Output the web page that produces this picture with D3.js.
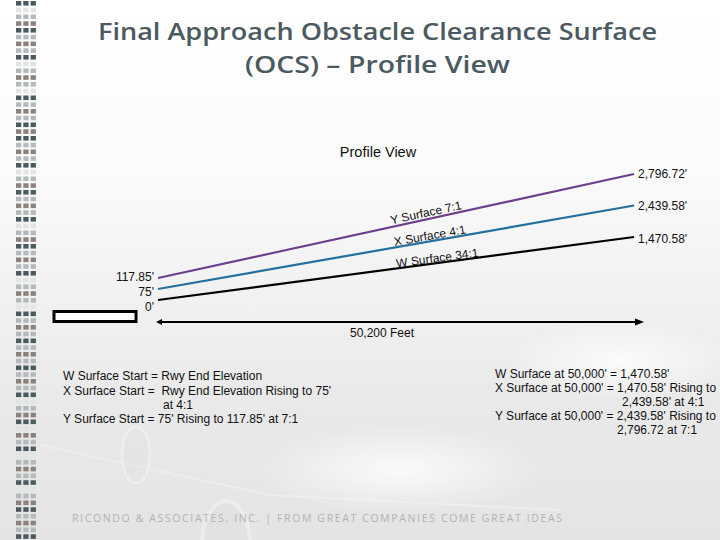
<!DOCTYPE html>
<html>
<head>
<meta charset="utf-8">
<script src="https://cdn.jsdelivr.net/npm/d3@7/dist/d3.min.js"></script>
<style>
  html, body { margin: 0; padding: 0; background: #fff; }
  svg { display: block; }
  text { white-space: pre; }
</style>
</head>
<body>
<svg id="chart" width="720" height="540"></svg>
<script>
// ---------------- DATA ----------------
const titleLines = ["Final Approach Obstacle Clearance Surface", "(OCS) \u2013 Profile View"];
const chartTitle = "Profile View";
const surfaceNames = ["W Surface 34:1", "X Surface 4:1", "Y Surface 7:1"];
const startElevations = [0, 75, 117.85];              // feet
const endElevations = [1470.58, 2439.58, 2796.72];    // feet
const startLabels = ["0'", "75'", "117.85'"];
const endLabels = ["1,470.58'", "2,439.58'", "2,796.72'"];
const surfaceLength = 50000;   // feet
const totalDistance = 50200;   // feet
const distanceLabel = "50,200 Feet";
const leftNotes = [
  "W Surface Start = Rwy End Elevation",
  "X Surface Start =  Rwy End Elevation Rising to 75'",
  "at 4:1",
  "Y Surface Start = 75' Rising to 117.85' at 7:1"
];
const rightNotes = [
  "W Surface at 50,000' = 1,470.58'",
  "X Surface at 50,000' = 1,470.58' Rising to",
  "2,439.58' at 4:1",
  "Y Surface at 50,000' = 2,439.58' Rising to",
  "2,796.72 at 7:1"
];
const footerText = "RICONDO & ASSOCIATES, INC. | FROM GREAT COMPANIES COME GREAT IDEAS";

// ---------------- STYLE ----------------
const surfaceColors = ["#000000", "#23709e", "#6c3f8e"];
const stripPattern = "DLGTDGTGDLGTGLDGTGDT" + "DGTGDLGTDGTGDLGTDGTG" + "DLGTGLDGTGDGTGDGTGDL" + "GTDLTGDLGTGDLGTDGTGD";
const stripColors = { D: "#4b5a5f", T: "#8b827d", G: "#b4b9bc", L: "#e2e4e5" };
const bodyFont = "'Liberation Sans', Arial, sans-serif";

const svg = d3.select("#chart");
const defs = svg.append("defs");

// background
const bg = defs.append("linearGradient").attr("id", "bg").attr("x1", 0).attr("y1", 0).attr("x2", 0).attr("y2", 1);
[[0, "#ffffff"], [0.3, "#fbfbfb"], [0.55, "#f1f1f1"], [0.75, "#e9e9e9"], [1, "#e4e4e4"]]
  .forEach(([o, c]) => bg.append("stop").attr("offset", o).attr("stop-color", c));
svg.append("rect").attr("width", 720).attr("height", 540).attr("fill", "url(#bg)");

const cloud = defs.append("radialGradient").attr("id", "cloud");
cloud.append("stop").attr("offset", 0).attr("stop-color", "#ffffff").attr("stop-opacity", 0.8);
cloud.append("stop").attr("offset", 1).attr("stop-color", "#ffffff").attr("stop-opacity", 0);
svg.append("ellipse").attr("cx", 400).attr("cy", 470).attr("rx", 150).attr("ry", 45).attr("fill", "url(#cloud)");
svg.append("ellipse").attr("cx", 620).attr("cy", 360).attr("rx", 120).attr("ry", 40).attr("fill", "url(#cloud)");

// faint jet engine shapes
const deco = svg.append("g").attr("fill", "none").attr("opacity", 0.55);
deco.append("path").attr("d", "M40,445 L270,495 L560,510").attr("stroke", "#f3f3f3").attr("stroke-width", 2);
deco.append("ellipse").attr("cx", 136).attr("cy", 455).attr("rx", 14).attr("ry", 28)
  .attr("stroke", "#f3f3f3").attr("stroke-width", 3).attr("fill", "#e0e0e0").attr("fill-opacity", 0.5);
deco.append("ellipse").attr("cx", 226).attr("cy", 545).attr("rx", 24).attr("ry", 44)
  .attr("stroke", "#f3f3f3").attr("stroke-width", 4).attr("fill", "#dedede").attr("fill-opacity", 0.5);

// left decorative strip
const strip = svg.append("g");
stripPattern.split("").forEach((ch, i) => {
  [16, 23.3, 30.6].forEach(x => {
    strip.append("rect").attr("x", x).attr("y", 1 + i * 6.75).attr("width", 5.3).attr("height", 4.6)
      .attr("fill", stripColors[ch]);
  });
});

// title
const titleG = svg.append("g").attr("font-family", "'Open Sans', 'Noto Sans', sans-serif")
  .attr("font-weight", 600).attr("fill", "#4b5a60").attr("text-anchor", "middle");
const titleWidths = [559, 265];
const titleY = [40, 73];
titleLines.forEach((t, i) => {
  titleG.append("text").attr("x", 377.5).attr("y", titleY[i]).attr("font-size", 23.5)
    .attr("textLength", titleWidths[i]).attr("lengthAdjust", "spacingAndGlyphs").text(t);
});

// chart title
svg.append("text").attr("x", 378).attr("y", 157).attr("text-anchor", "middle")
  .attr("font-family", bodyFont).attr("font-size", 14.5).attr("fill", "#111").text(chartTitle);

// scales
const x = d3.scaleLinear().domain([0, totalDistance]).range([158, 636]);
const yStart = d3.scalePoint().domain(startElevations).range([300, 278]);
const yEnd = d3.scalePoint().domain(endElevations).range([237, 174]);
const yStartLabel = d3.scalePoint().domain(startElevations).range([311, 281]);

// surfaces
const surfaces = surfaceNames.map((name, i) => ({
  name, start: startElevations[i], end: endElevations[i],
  startLabel: startLabels[i], endLabel: endLabels[i], color: surfaceColors[i]
}));

const line = d3.line().x(d => d[0]).y(d => d[1]);
svg.append("g").selectAll("path").data(surfaces).join("path")
  .attr("d", d => line([[x(0), yStart(d.start)], [x(surfaceLength), yEnd(d.end)]]))
  .attr("stroke", d => d.color).attr("stroke-width", 2.2).attr("fill", "none");

// start labels
svg.append("g").attr("font-family", bodyFont).attr("font-size", 12).attr("text-anchor", "end").attr("fill", "#111")
  .selectAll("text").data(surfaces).join("text")
  .attr("x", x(0) - 4).attr("y", d => yStartLabel(d.start)).text(d => d.startLabel);

// end labels
svg.append("g").attr("font-family", bodyFont).attr("font-size", 12).attr("fill", "#111")
  .selectAll("text").data(surfaces).join("text")
  .attr("x", x(surfaceLength) + 4).attr("y", d => yEnd(d.end) + 4 + (d.end === endElevations[0] ? 2 : 0))
  .text(d => d.endLabel);

// rotated surface names
const labelStartX = [397, 395, 392];
const labelDy = [-1, -1.5, -2.5];
svg.append("g").attr("font-family", bodyFont).attr("font-size", 12).attr("fill", "#111")
  .selectAll("text").data(surfaces).join("text")
  .each(function (d, i) {
    const x0 = x(0), y0 = yStart(d.start), x1 = x(surfaceLength), y1 = yEnd(d.end);
    const ang = Math.atan2(y1 - y0, x1 - x0) * 180 / Math.PI;
    const lx = labelStartX[i];
    const ly = y0 + (y1 - y0) * (lx - x0) / (x1 - x0);
    d3.select(this).attr("transform", `translate(${lx},${ly}) rotate(${ang})`)
      .attr("dy", labelDy[i]).text(d.name);
  });

// runway
svg.append("rect").attr("x", 54).attr("y", 311.5).attr("width", 82).attr("height", 10)
  .attr("fill", "#fff").attr("stroke", "#000").attr("stroke-width", 3);

// distance arrow
const arrowY = 322;
svg.append("line").attr("x1", x(0) + 2).attr("x2", x(totalDistance) + 2).attr("y1", arrowY).attr("y2", arrowY)
  .attr("stroke", "#000").attr("stroke-width", 2.2);
svg.append("path").attr("d", d3.line()([[x(0) - 2, arrowY], [x(0) + 4, arrowY - 3], [x(0) + 4, arrowY + 3]]) + "Z").attr("fill", "#000");
svg.append("path").attr("d", d3.line()([[x(totalDistance) + 8, arrowY], [x(totalDistance) - 1, arrowY - 3.5], [x(totalDistance) - 1, arrowY + 3.5]]) + "Z").attr("fill", "#000");
svg.append("text").attr("x", 382).attr("y", 337).attr("text-anchor", "middle")
  .attr("font-family", bodyFont).attr("font-size", 12).attr("fill", "#111").text(distanceLabel);

// notes
const leftX = [63, 63, 163, 63];
const leftY = [380, 395, 409, 423];
svg.append("g").attr("font-family", bodyFont).attr("font-size", 12).attr("fill", "#111")
  .selectAll("text").data(leftNotes).join("text")
  .attr("x", (d, i) => leftX[i]).attr("y", (d, i) => leftY[i]).text(d => d);

const rightX = [495, 495, 622, 495, 617];
const rightY = [378, 392, 406, 420, 434];
svg.append("g").attr("font-family", bodyFont).attr("font-size", 12).attr("fill", "#111")
  .selectAll("text").data(rightNotes).join("text")
  .attr("x", (d, i) => rightX[i]).attr("y", (d, i) => rightY[i]).text(d => d);

// footer
svg.append("text").attr("x", 72).attr("y", 522).attr("font-family", "'Open Sans', 'Noto Sans', sans-serif")
  .attr("font-size", 10.5).attr("fill", "#b3b3b3").attr("textLength", 490).attr("lengthAdjust", "spacing")
  .text(footerText);
</script>
</body>
</html>
